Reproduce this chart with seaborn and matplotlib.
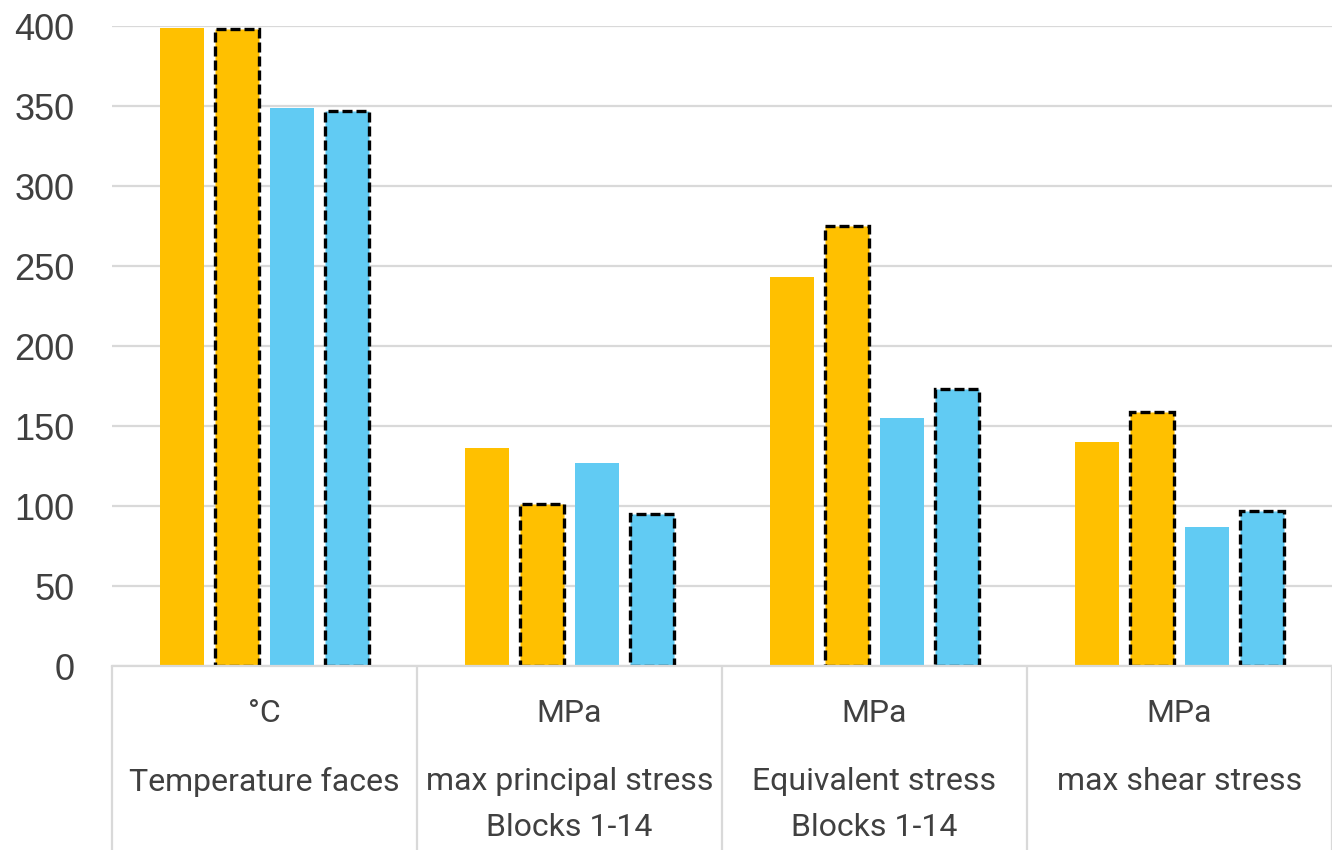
import matplotlib
matplotlib.use("Agg")
import matplotlib.pyplot as plt
import matplotlib.transforms as mtransforms
import seaborn as sns
import pandas as pd

# ---- data ----
categories = ["Temperature faces", "max principal stress\nBlocks 1-14",
              "Equivalent stress\nBlocks 1-14", "max shear stress"]
units = ["°C", "MPa", "MPa", "MPa"]
series_names = ["A", "A dashed", "B", "B dashed"]
series_a = [399, 136, 243, 140]
series_a_dashed = [398, 101, 275, 159]
series_b = [349, 127, 155, 87]
series_b_dashed = [347, 95, 173, 97]
y_ticks = [0, 50, 100, 150, 200, 250, 300, 350, 400]

colors = ["#FFC000", "#FFC000", "#61CBF3", "#61CBF3"]
dashed = [False, True, False, True]

rows = []
for name, vals in zip(series_names, [series_a, series_a_dashed, series_b, series_b_dashed]):
    for cat, v in zip(categories, vals):
        rows.append({"category": cat, "series": name, "value": v})
df = pd.DataFrame(rows)

sns.set_theme(style="white")
plt.rcParams["font.family"] = ["Liberation Sans", "DejaVu Sans"]

W, H = 1332, 850
fig = plt.figure(figsize=(W / 100, H / 100), dpi=100)
left, right, top, bottom = 112, 1332, 26, 666
ax = fig.add_axes([left / W, 1 - bottom / H, (right - left) / W, (bottom - top) / H])

sns.barplot(data=df, x="category", y="value", hue="series", order=categories,
            hue_order=series_names, palette=colors, width=0.72, gap=0.2,
            saturation=1, ax=ax, legend=False, errorbar=None)

for cont, is_dashed in zip(ax.containers, dashed):
    for bar in cont:
        if is_dashed:
            bar.set_edgecolor("black")
            bar.set_linestyle((0, (3, 1.2)))
            bar.set_linewidth(2.4)
        else:
            bar.set_edgecolor("none")
            bar.set_linewidth(0)
        bar.set_zorder(3)

ax.set_ylim(0, 400)
ax.set_xlim(-0.5, len(categories) - 0.5)
ax.set_yticks(y_ticks)
ax.set_yticklabels([str(t) for t in y_ticks], fontsize=26, color="#404040",
                   family=["Liberation Sans", "DejaVu Sans"])
ax.tick_params(axis="y", length=0, pad=27)
ax.set_xticks([])
ax.set_xlabel("")
ax.set_ylabel("")
ax.yaxis.grid(True, color="#d9d9d9", linewidth=1.6, zorder=0)
ax.set_axisbelow(True)
for s in ["left", "right", "top"]:
    ax.spines[s].set_visible(False)
ax.spines["bottom"].set_color("#d9d9d9")
ax.spines["bottom"].set_linewidth(1.6)
ax.spines["bottom"].set_zorder(4)

trans = mtransforms.blended_transform_factory(ax.transData, ax.transAxes)
ax_h = bottom - top
y_bottom = -(H - bottom) / ax_h
for i in range(len(categories) + 1):
    ax.plot([i - 0.5, i - 0.5], [0, y_bottom], transform=trans, color="#d9d9d9",
            linewidth=1.6, clip_on=False, solid_capstyle="butt")

def yfrac(py):
    return (bottom - py) / ax_h

txt_font = ["Roboto", "DejaVu Sans"]
for i, (cat, unit) in enumerate(zip(categories, units)):
    ax.text(i, yfrac(713), unit, transform=trans, ha="center", va="center",
            fontsize=23, color="#404040", family=txt_font)
    for j, line in enumerate(cat.split("\n")):
        ax.text(i, yfrac(782 + 46 * j), line, transform=trans, ha="center",
                va="center", fontsize=23, color="#404040", family=txt_font)

fig.savefig("out.png", dpi=100)
